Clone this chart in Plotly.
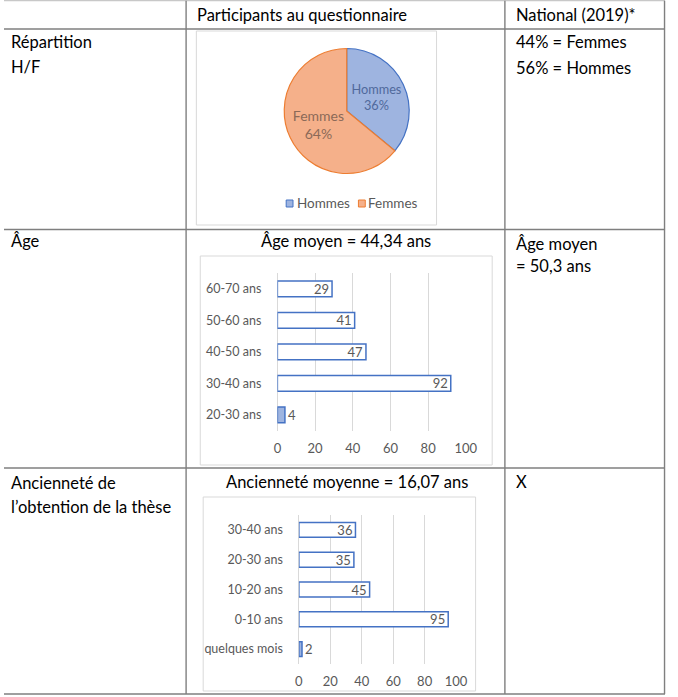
import plotly.graph_objects as go

W, H = 678, 697

# ---------------- data ----------------
pie_labels = ["Hommes", "Femmes"]
pie_values = [36, 64]

age_cats = ["20-30 ans", "30-40 ans", "40-50 ans", "50-60 ans", "60-70 ans"]
age_vals = [4, 92, 47, 41, 29]

anc_cats = ["quelques mois", "0-10 ans", "10-20 ans", "20-30 ans", "30-40 ans"]
anc_vals = [2, 95, 45, 35, 36]

FONT = "Lato"
GRAY = "#595959"
BLUE = "#4472C4"
LBLUE = "#9EB4E0"
ORANGE = "#ED7D31"
LORANGE = "#F5B08A"
BODY = 16.5


def px(x):
    return x / W


def py(y):
    return 1 - y / H


fig = go.Figure()

# ---------------- pie ----------------
cx, cy, r = 351, 111, 64
fig.add_trace(go.Pie(
    labels=pie_labels, values=pie_values, sort=False, direction="clockwise",
    rotation=0,
    marker=dict(colors=[LBLUE, LORANGE], line=dict(color=[BLUE, ORANGE], width=1.2)),
    texttemplate="%{label}<br>%{percent:.0%}", textposition="inside",
    insidetextorientation="horizontal",
    textfont=dict(family=FONT, size=14, color=["#50699c", "#8c6a58"]),
    domain=dict(x=[px(cx - r), px(cx + r)], y=[py(cy + r), py(cy - r)]),
    showlegend=False, hoverinfo="label+percent",
))


def bar_trace(cats, vals, xa, ya):
    return go.Bar(
        x=vals, y=cats, orientation="h", xaxis=xa, yaxis=ya,
        width=0.5,
        marker=dict(color=[LBLUE if v < 10 else "white" for v in vals],
                    line=dict(color=BLUE, width=1.5)),
        text=[str(v) for v in vals],
        textposition=["outside" if v < 10 else "inside" for v in vals],
        textangle=0,
        insidetextanchor="end", constraintext="none", cliponaxis=False,
        textfont=dict(family=FONT, size=13, color=GRAY),
        showlegend=False,
    )


fig.add_trace(bar_trace(age_cats, age_vals, "x", "y"))
fig.add_trace(bar_trace(anc_cats, anc_vals, "x2", "y2"))

axis_x = dict(range=[0, 100], tickvals=[0, 20, 40, 60, 80, 100], showgrid=True,
              gridcolor="#d9d9d9", gridwidth=1, zeroline=True, zerolinecolor="#d9d9d9",
              zerolinewidth=1, showline=False, ticks="", ticklabelstandoff=8,
              tickfont=dict(family=FONT, size=13, color=GRAY), fixedrange=True)
axis_y = dict(showgrid=False, zeroline=False, showline=False, ticks="",
              ticklabelstandoff=15, tickfont=dict(family=FONT, size=12.5, color=GRAY),
              fixedrange=True, type="category")

fig.update_layout(
    width=W, height=H, margin=dict(l=0, r=0, t=0, b=0),
    paper_bgcolor="white", plot_bgcolor="rgba(0,0,0,0)",
    font=dict(family=FONT, color="black"),
    xaxis=dict(axis_x, domain=[px(280), px(473)], anchor="y"),
    yaxis=dict(axis_y, domain=[py(430.5), py(273)], anchor="x", range=[-0.5, 4.5]),
    xaxis2=dict(axis_x, domain=[px(302), px(463)], anchor="y2"),
    yaxis2=dict(axis_y, domain=[py(664), py(515)], anchor="x2", range=[-0.5, 4.5]),
    showlegend=False,
)

# ---------------- table lines & chart frames ----------------
shapes = []
LINE = dict(color="#7f7f7f", width=1.4)


def hline(y, x0=0, x1=677, line=LINE):
    shapes.append(dict(type="line", xref="paper", yref="paper",
                       x0=px(x0), x1=px(x1), y0=py(y), y1=py(y), line=line, layer="above"))


def vline(x, y0=0, y1=694, line=LINE):
    shapes.append(dict(type="line", xref="paper", yref="paper",
                       x0=px(x), x1=px(x), y0=py(y0), y1=py(y1), line=line, layer="above"))


hline(0.7, line=dict(color="#c8c8c8", width=1.2))
hline(29)
hline(229.5)
hline(468)
hline(694)
vline(186.5, 0.7)
vline(513, 0.7)
vline(676.5, 0.7)


def frame(x0, y0, x1, y1):
    shapes.append(dict(type="rect", xref="paper", yref="paper",
                       x0=px(x0), x1=px(x1), y0=py(y1), y1=py(y0),
                       line=dict(color="#d9d9d9", width=1), fillcolor="rgba(0,0,0,0)",
                       layer="below"))


frame(197, 31, 443, 225)
frame(201, 256, 500, 465)
frame(204, 497, 483, 691)

# pie legend
for xs, fc, lc in [(289, LBLUE, BLUE), (363, LORANGE, ORANGE)]:
    shapes.append(dict(type="rect", xref="paper", yref="paper",
                       x0=px(xs), x1=px(xs + 7), y0=py(207), y1=py(200),
                       fillcolor=fc, line=dict(color=lc, width=1)))

annotations = []


def txt(s, x, y, size=BODY, color="black", anchor="left"):
    annotations.append(dict(text=s, x=px(x), y=py(y), xref="paper", yref="paper",
                            xanchor=anchor, yanchor="middle", showarrow=False,
                            font=dict(family=FONT, size=size, color=color)))


txt("Hommes", 298, 203, 13.5, GRAY)
txt("Femmes", 371, 203, 13.5, GRAY)

txt("Participants au questionnaire", 196, 15)
txt("National (2019)*", 522, 15)
txt("Répartition", 5, 42)
txt("H/F", 5, 67)
txt("44% = Femmes", 522, 42)
txt("56% = Hommes", 522, 68)
txt("Âge", 5, 241)
txt("Âge moyen = 44,34 ans", 350, 241, anchor="center")
txt("Âge moyen", 522, 244)
txt("= 50,3 ans", 522, 266)
txt("Ancienneté de", 5, 483)
txt("l’obtention de la thèse", 5, 507)
txt("Ancienneté moyenne = 16,07 ans", 351, 482, anchor="center")
txt("X", 522, 482)

fig.update_layout(shapes=shapes, annotations=annotations)

fig.write_html("out.html")
